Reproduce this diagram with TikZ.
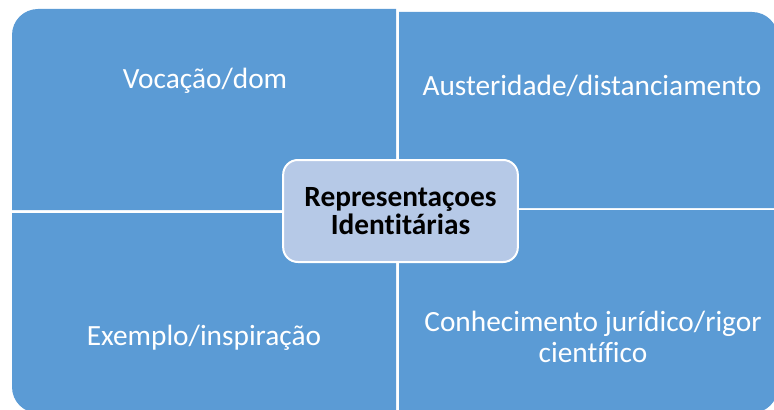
\documentclass[tikz,border=0pt]{standalone}
\usepackage{fontspec}
\setmainfont[Ligatures=NoCommon]{Carlito}
\usepackage{xcolor}
\usetikzlibrary{positioning}
\definecolor{quadblue}{RGB}{91, 155, 213}
\definecolor{centreblue}{RGB}{182, 201, 231}

\begin{document}
\begin{tikzpicture}[
    x=0.75pt, y=-0.75pt,
    quad/.style={fill=quadblue},
    quadtext/.style={text=white, anchor=base, align=center,
        font=\fontsize{22}{23}\selectfont},
    centre/.style={draw=white, line width=1.5pt, fill=centreblue,
        rounded corners=11pt, minimum width=176pt, minimum height=76.5pt,
        align=center, inner sep=0pt,
        font=\bfseries\fontsize{22}{21.5}\selectfont}
]
\useasboundingbox (0,0) rectangle (774,410);
\fill[quad] (12,210) -- (12,35) .. controls (12,20.6) and (23.6,9) .. (38,9)
    -- (396,9) -- (396,210) -- cycle;
\fill[quad] (399,12) -- (752,12) .. controls (766.4,12) and (778,23.6) .. (778,38)
    -- (778,208) -- (399,208) -- cycle;
\fill[quad] (12,213) -- (396,213) -- (396,413) -- (38,413)
    .. controls (23.6,413) and (12,401.4) .. (12,387) -- cycle;
\fill[quad] (399,210) -- (778,210) -- (778,387)
    .. controls (778,401.4) and (766.4,413) .. (752,413) -- (399,413) -- cycle;

\node[quadtext] (vocacao) at (205,89) {Vocação/dom};
\node[quadtext] (austeridade) at (592,95) {Austeridade/distanciamento};
\node[quadtext] (exemplo) at (204,345) {Exemplo/inspiração};
\node[quadtext] (conhecimento) at (593,362) {Conhecimento jurídico/rigor\\científico};
\node[centre] (repr) at (400.5,211) {Representaçoes\\Identitárias};
\end{tikzpicture}
\end{document}
